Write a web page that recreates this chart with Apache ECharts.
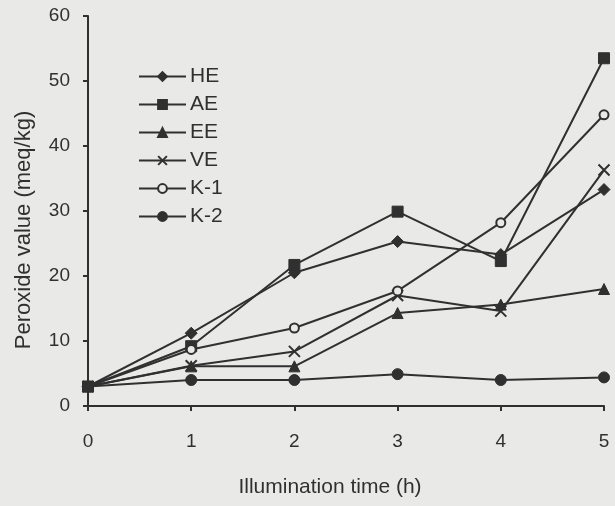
<!DOCTYPE html>
<html>
<head>
<meta charset="utf-8">
<script src="https://cdn.jsdelivr.net/npm/echarts@6/dist/echarts.min.js"></script>
<style>
html,body{margin:0;padding:0;background:#e9e9e8;}
#chart{width:615px;height:506px;}
</style>
</head>
<body>
<div id="chart"></div>
<script>
const hours = ['0', '1', '2', '3', '4', '5'];
const HE = [3, 11.2, 20.5, 25.3, 23.3, 33.3];
const AE = [3, 9.2, 21.7, 29.9, 22.3, 53.5];
const EE = [3, 6.1, 6.1, 14.3, 15.6, 18.0];
const VE = [3, 6.2, 8.4, 17.0, 14.6, 36.3];
const K1 = [3, 8.7, 12.0, 17.7, 28.2, 44.8];
const K2 = [3, 4.0, 4.0, 4.9, 4.0, 4.4];

const ink = '#303030';
const font = 'Liberation Sans, Arial, sans-serif';
const crossPath = 'path://M0,0L10,10M10,0L0,10';

function mk(name, data, symbol, size, hollow) {
  return {
    name: name, type: 'line', data: data, symbol: symbol, symbolSize: size,
    showAllSymbol: true, z: 2,
    lineStyle: {color: ink, width: 2},
    itemStyle: hollow ? {color: hollow, borderColor: ink, borderWidth: 2} : {color: ink, borderColor: ink, borderWidth: 1},
    emphasis: {disabled: true},
    animation: false
  };
}

const chart = echarts.init(document.getElementById('chart'), null, {renderer: 'canvas'});
chart.setOption({
  backgroundColor: '#e9e9e8',
  animation: false,
  grid: {left: 88, right: 11, top: 16, bottom: 100},
  legend: {
    orient: 'vertical', left: 133, top: 61, itemGap: 7,
    itemWidth: 47, itemHeight: 11,
    textStyle: {fontFamily: font, fontSize: 21, color: ink, padding: [0,0,0,-1]},
    data: ['HE','AE','EE','VE','K-1','K-2'],
    selectedMode: false
  },
  xAxis: {
    type: 'category', data: hours, boundaryGap: false,
    name: 'Illumination time (h)', nameLocation: 'middle', nameGap: 71,
    nameTextStyle: {fontFamily: font, fontSize: 21, color: ink, padding: [0, 32, 0, 0]},
    axisLine: {lineStyle: {color: ink, width: 2}},
    axisTick: {show: true, length: 5, lineStyle: {color: ink, width: 2}, alignWithLabel: true},
    axisLabel: {fontFamily: font, fontSize: 19, color: ink, margin: 26},
    splitLine: {show: false}
  },
  yAxis: {
    type: 'value', min: 0, max: 60, interval: 10,
    name: 'Peroxide value (meq/kg)', nameLocation: 'middle', nameGap: 53,
    nameTextStyle: {fontFamily: font, fontSize: 22, color: ink, padding: [0, 38, 0, 0]},
    axisLine: {show: true, lineStyle: {color: ink, width: 2}},
    axisTick: {show: true, length: 5, lineStyle: {color: ink, width: 2}},
    axisLabel: {fontFamily: font, fontSize: 19, color: ink, margin: 18},
    splitLine: {show: false}
  },
  series: [
    mk('HE', HE, 'diamond', 12),
    mk('AE', AE, 'rect', 11),
    mk('EE', EE, 'triangle', 11),
    mk('VE', VE, crossPath, 11, 'rgba(0,0,0,0)'),
    mk('K-1', K1, 'circle', 9, '#e9e9e8'),
    mk('K-2', K2, 'circle', 11)
  ]
});
</script>
</body>
</html>
